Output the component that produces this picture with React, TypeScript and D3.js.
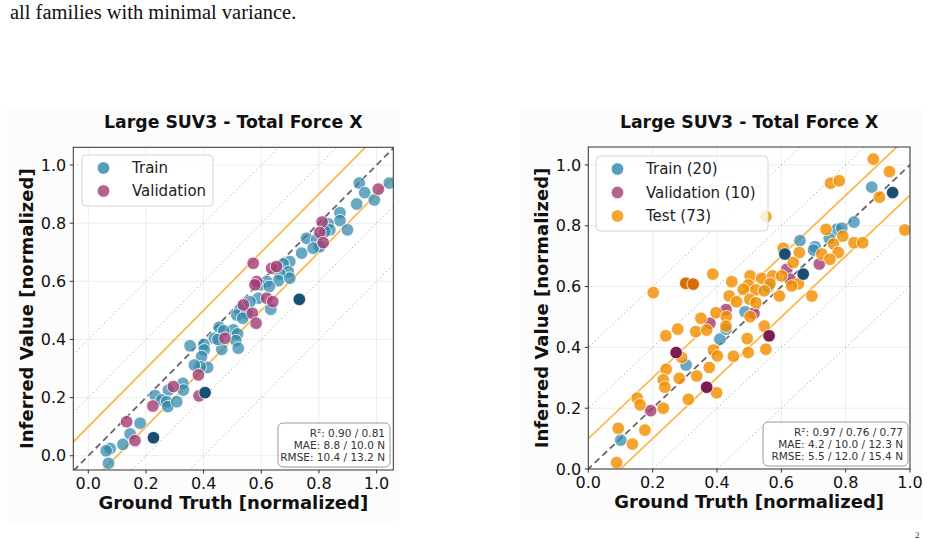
import React from 'react';
import * as d3 from 'd3';

type Pt = [number, number];

// ---- data (ground truth, inferred), normalized ----
const leftTrain: Pt[] = [
  [1.044, 0.938], [0.940, 0.938], [0.959, 0.905], [0.992, 0.880], [0.931, 0.866], [0.873, 0.836],
  [0.873, 0.809], [0.899, 0.777], [0.832, 0.798], [0.838, 0.777], [0.821, 0.771], [0.757, 0.748],
  [0.792, 0.743], [0.803, 0.719], [0.740, 0.697], [0.780, 0.714], [0.699, 0.668], [0.676, 0.660],
  [0.694, 0.633], [0.665, 0.625], [0.659, 0.602], [0.699, 0.611], [0.619, 0.599], [0.596, 0.588],
  [0.628, 0.582], [0.590, 0.542], [0.633, 0.504], [0.561, 0.530], [0.526, 0.502], [0.515, 0.484],
  [0.549, 0.490], [0.536, 0.473], [0.454, 0.442], [0.503, 0.433], [0.518, 0.419], [0.512, 0.396],
  [0.520, 0.370], [0.437, 0.404], [0.463, 0.366], [0.401, 0.383], [0.402, 0.364], [0.353, 0.378],
  [0.393, 0.341], [0.414, 0.304], [0.388, 0.306], [0.368, 0.312], [0.328, 0.249], [0.330, 0.226],
  [0.278, 0.226], [0.232, 0.207], [0.255, 0.192], [0.272, 0.186], [0.276, 0.169], [0.307, 0.186],
  [0.180, 0.112], [0.145, 0.075], [0.120, 0.039], [0.076, 0.025], [0.062, 0.017], [0.070, -0.026],
  [0.470, 0.430], [0.450, 0.400],
];
const leftTrainWorst: Pt[] = [[0.732, 0.538], [0.405, 0.217], [0.226, 0.062]];
const leftVal: Pt[] = [
  [1.006, 0.917], [0.811, 0.804], [0.803, 0.768], [0.815, 0.733], [0.572, 0.662], [0.636, 0.645],
  [0.653, 0.651], [0.584, 0.599], [0.578, 0.588], [0.538, 0.519], [0.619, 0.542], [0.640, 0.530],
  [0.569, 0.490], [0.582, 0.456], [0.474, 0.404], [0.382, 0.278], [0.295, 0.238], [0.384, 0.206],
  [0.224, 0.171], [0.133, 0.117], [0.162, 0.052],
];

const rightTrain: Pt[] = [
  [0.881, 0.927], [0.826, 0.812], [0.772, 0.788], [0.788, 0.792], [0.658, 0.751], [0.705, 0.731],
  [0.749, 0.759], [0.304, 0.342], [0.409, 0.427], [0.428, 0.460], [0.487, 0.517], [0.560, 0.600],
  [0.700, 0.720], [0.101, 0.095],
];
const rightTrainWorst: Pt[] = [[0.946, 0.909], [0.611, 0.707], [0.668, 0.641]];
const rightVal: Pt[] = [
  [0.378, 0.479], [0.428, 0.524], [0.515, 0.512], [0.617, 0.657], [0.627, 0.624], [0.718, 0.674],
  [0.194, 0.192],
];
const rightValWorst: Pt[] = [[0.273, 0.383], [0.562, 0.438], [0.368, 0.269]];
const rightTest: Pt[] = [
  [0.886, 1.019], [0.936, 0.978], [0.753, 0.940], [0.780, 0.948], [0.905, 0.894], [0.552, 0.830],
  [0.984, 0.786], [0.739, 0.788], [0.791, 0.766], [0.762, 0.740], [0.826, 0.744], [0.853, 0.744],
  [0.606, 0.726], [0.656, 0.712], [0.726, 0.707], [0.777, 0.712], [0.751, 0.690], [0.637, 0.679],
  [0.387, 0.641], [0.503, 0.635], [0.539, 0.627], [0.573, 0.635], [0.601, 0.635], [0.446, 0.616],
  [0.497, 0.605], [0.565, 0.609], [0.521, 0.589], [0.547, 0.586], [0.594, 0.569], [0.653, 0.609],
  [0.632, 0.602], [0.695, 0.569], [0.482, 0.591], [0.438, 0.569], [0.461, 0.550], [0.502, 0.558],
  [0.521, 0.547], [0.202, 0.580], [0.397, 0.514], [0.350, 0.496], [0.429, 0.501], [0.503, 0.501],
  [0.278, 0.460], [0.334, 0.452], [0.368, 0.457], [0.428, 0.470], [0.547, 0.470], [0.241, 0.438],
  [0.389, 0.391], [0.401, 0.372], [0.290, 0.367], [0.494, 0.429], [0.451, 0.371], [0.497, 0.383],
  [0.552, 0.394], [0.242, 0.328], [0.376, 0.334], [0.233, 0.293], [0.283, 0.298], [0.337, 0.306],
  [0.238, 0.269], [0.399, 0.251], [0.152, 0.233], [0.161, 0.211], [0.233, 0.200], [0.311, 0.229],
  [0.093, 0.134], [0.176, 0.128], [0.137, 0.082], [0.088, 0.021],
];
const rightTestWorst: Pt[] = [[0.303, 0.611], [0.326, 0.608]];

const tickValues = [0, 0.2, 0.4, 0.6, 0.8, 1.0];
const bandOffsets = [0.1, -0.1]; // +/-10% band
const guideOffsets = [0.2, -0.2, 0.4, -0.4];
const chartTitle = 'Large SUV3 - Total Force X';
const leftLegend = ['Train', 'Validation'];
const rightLegend = ['Train (20)', 'Validation (10)', 'Test (73)'];
const leftStats = ['R²: 0.90 / 0.81', 'MAE: 8.8 / 10.0 N', 'RMSE: 10.4 / 13.2 N'];
const rightStats = ['R²: 0.97 / 0.76 / 0.77', 'MAE: 4.2 / 10.0 / 12.3 N', 'RMSE: 5.5 / 12.0 / 15.4 N'];

const C = {
  train: '#2E86AB', trainDark: '#1B4F72',
  val: '#A23B72', valDark: '#7B1E4F',
  test: '#F18F01', testDark: '#D96C06',
  band: '#F7B13C',
};
const FONT = 'DejaVu Sans, sans-serif';
const fmt = d3.format('.1f');

interface Series { data: Pt[]; color: string; opacity: number; }
interface Box { left: number; right: number; top: number; bottom: number; }

interface PanelProps {
  id: string;
  box: Box;
  xDomain: [number, number];
  yDomain: [number, number];
  series: Series[];
  legend: { label: string; color: string }[];
  legendBox: { x: number; y: number; w: number; h: number; step: number };
  stats: string[];
  statsBox: { x: number; y: number; w: number; h: number };
  bg: { x: number; y: number; w: number; h: number };
}

const Panel = ({ id, box, xDomain, yDomain, series, legend, legendBox, stats, statsBox, bg }: PanelProps) => {
  const x = d3.scaleLinear().domain(xDomain).range([box.left, box.right]);
  const y = d3.scaleLinear().domain(yDomain).range([box.bottom, box.top]);
  const diag = (off: number) =>
    d3.line<number>().x(v => x(v)).y(v => y(v + off))([-1, 2]) || '';
  const cx = (box.left + box.right) / 2;
  const cy = (box.top + box.bottom) / 2;

  return (
    <g>
      <rect x={bg.x} y={bg.y} width={bg.w} height={bg.h} fill="#fcfcfc" />
      <rect x={box.left} y={box.top} width={box.right - box.left} height={box.bottom - box.top} fill="#fff" />
      <defs>
        <clipPath id={id}>
          <rect x={box.left} y={box.top} width={box.right - box.left} height={box.bottom - box.top} />
        </clipPath>
      </defs>

      {/* grid */}
      <g stroke="#e8e8e8" strokeWidth={0.8}>
        {tickValues.map(t => (
          <line key={'gx' + t} x1={x(t)} x2={x(t)} y1={box.top} y2={box.bottom} />
        ))}
        {tickValues.map(t => (
          <line key={'gy' + t} x1={box.left} x2={box.right} y1={y(t)} y2={y(t)} />
        ))}
      </g>

      <g clipPath={`url(#${id})`}>
        {guideOffsets.map(o => (
          <path key={'g' + o} d={diag(o)} fill="none" stroke="#a8a8a8" strokeWidth={1} strokeDasharray="1.2,2.8" />
        ))}
        {bandOffsets.map(o => (
          <path key={'b' + o} d={diag(o)} fill="none" stroke={C.band} strokeWidth={1.8} opacity={0.9} />
        ))}
        <path d={diag(0)} fill="none" stroke="#555" strokeWidth={1.8} strokeDasharray="6.5,4" opacity={0.9} />

        {series.map((s, i) => (
          <g key={i} fill={s.color} fillOpacity={s.opacity} stroke="#fff" strokeWidth={0.8}>
            {s.data.map((d, j) => (
              <circle key={j} cx={x(d[0])} cy={y(d[1])} r={6.3} />
            ))}
          </g>
        ))}
      </g>

      {/* legend */}
      <rect x={legendBox.x} y={legendBox.y} width={legendBox.w} height={legendBox.h} rx={4}
        fill="#fff" fillOpacity={0.8} stroke="#d4d4d4" strokeWidth={1} />
      {legend.map((l, i) => {
        const ly = legendBox.y + 13 + i * legendBox.step;
        return (
          <g key={l.label}>
            <circle cx={legendBox.x + 21.5} cy={ly} r={6.3} fill={l.color} fillOpacity={0.8} stroke="#fff" strokeWidth={0.8} />
            <text x={legendBox.x + 50} y={ly + 5.3} fontSize={15} fontFamily={FONT} fill="#222">{l.label}</text>
          </g>
        );
      })}

      {/* stats box */}
      <rect x={statsBox.x} y={statsBox.y} width={statsBox.w} height={statsBox.h} rx={5}
        fill="#fff" fillOpacity={0.85} stroke="#999" strokeWidth={1} />
      {stats.map((s, i) => (
        <text key={s} x={statsBox.x + statsBox.w - 5} y={statsBox.y + 13.5 + i * 12.3} textAnchor="end"
          fontSize={10.5} fontFamily={FONT} fill="#333">{s}</text>
      ))}

      {/* frame + ticks */}
      <rect x={box.left} y={box.top} width={box.right - box.left} height={box.bottom - box.top}
        fill="none" stroke="#333" strokeWidth={1} />
      {tickValues.map(t => (
        <g key={'tx' + t}>
          <line x1={x(t)} x2={x(t)} y1={box.bottom} y2={box.bottom + 3.5} stroke="#333" />
          <text x={x(t)} y={box.bottom + 19} textAnchor="middle" fontSize={16} fontFamily={FONT} fill="#111">{fmt(t)}</text>
        </g>
      ))}
      {tickValues.map(t => (
        <g key={'ty' + t}>
          <line x1={box.left - 3.5} x2={box.left} y1={y(t)} y2={y(t)} stroke="#333" />
          <text x={box.left - 7} y={y(t)} dy="0.35em" textAnchor="end" fontSize={16} fontFamily={FONT} fill="#111">{fmt(t)}</text>
        </g>
      ))}

      <text x={cx} y={box.top - 19} textAnchor="middle" fontSize={17.3} fontWeight="bold" fontFamily={FONT} fill="#111">{chartTitle}</text>
      <text x={cx} y={box.bottom + 39} textAnchor="middle" fontSize={18} fontWeight="bold" fontFamily={FONT} fill="#111">Ground Truth [normalized]</text>
      <text transform={`translate(${box.left - 40},${cy}) rotate(-90)`} textAnchor="middle" fontSize={18}
        fontWeight="bold" fontFamily={FONT} fill="#111">Inferred Value [normalized]</text>
    </g>
  );
};

export default function App() {
  return (
    <svg width={930} height={539} style={{ position: 'absolute', left: 0, top: 0, background: '#fff' }}>
      <text x={10} y={19} fontSize={20.5} fontFamily="Liberation Serif, Times New Roman, serif" fill="#111">
        all families with minimal variance.
      </text>
      <text x={915} y={538} fontSize={9} fontFamily="Liberation Serif, serif" fill="#333">2</text>

      <Panel
        id="clip-left"
        box={{ left: 73.3, right: 393.3, top: 147.3, bottom: 470 }}
        xDomain={[-0.052, 1.058]}
        yDomain={[-0.049, 1.061]}
        series={[
          { data: leftTrain, color: C.train, opacity: 0.72 },
          { data: leftVal, color: C.val, opacity: 0.8 },
          { data: leftTrainWorst, color: C.trainDark, opacity: 1 },
        ]}
        legend={[{ label: leftLegend[0], color: C.train }, { label: leftLegend[1], color: C.val }]}
        legendBox={{ x: 82, y: 155, w: 131, h: 51, step: 23 }}
        stats={leftStats}
        statsBox={{ x: 278, y: 423, w: 112, h: 44 }}
        bg={{ x: 7, y: 107, w: 392, h: 415 }}
      />
      <Panel
        id="clip-right"
        box={{ left: 588.3, right: 910, top: 147, bottom: 469 }}
        xDomain={[0, 1]}
        yDomain={[0, 1.059]}
        series={[
          { data: rightTrain, color: C.train, opacity: 0.72 },
          { data: rightVal, color: C.val, opacity: 0.8 },
          { data: rightTest, color: C.test, opacity: 0.82 },
          { data: rightTrainWorst, color: C.trainDark, opacity: 1 },
          { data: rightValWorst, color: C.valDark, opacity: 1 },
          { data: rightTestWorst, color: C.testDark, opacity: 1 },
        ]}
        legend={[
          { label: rightLegend[0], color: C.train },
          { label: rightLegend[1], color: C.val },
          { label: rightLegend[2], color: C.test },
        ]}
        legendBox={{ x: 596, y: 156, w: 172, h: 75, step: 23.5 }}
        stats={rightStats}
        statsBox={{ x: 763, y: 422, w: 145, h: 44 }}
        bg={{ x: 520, y: 108, w: 402, h: 412 }}
      />
    </svg>
  );
}
